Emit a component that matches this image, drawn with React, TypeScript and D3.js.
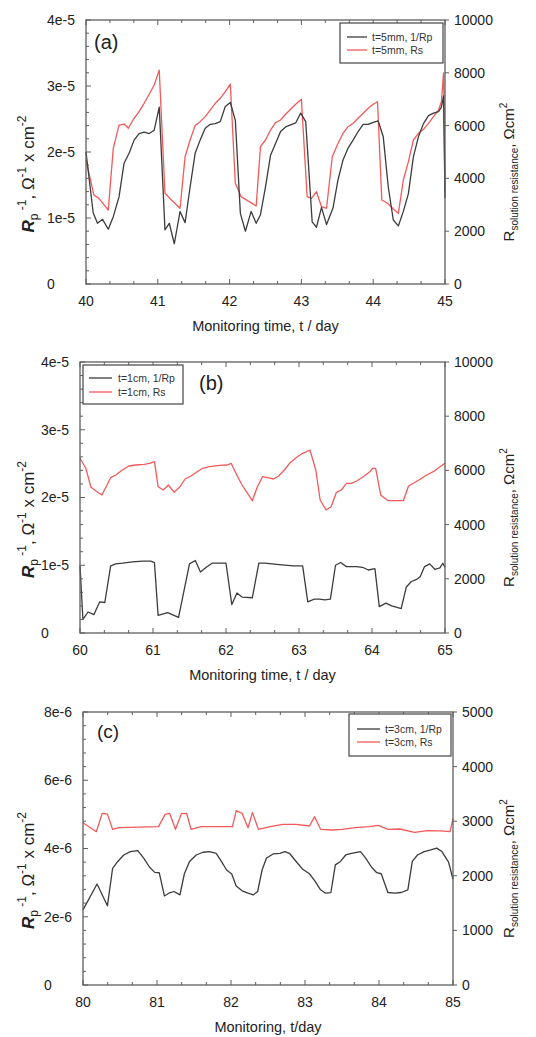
import React from "react";
import * as d3 from "d3";

// ---------- Panel (a) : t = 5 mm ----------
const daysA_rp = [40.0, 40.1, 40.16, 40.23, 40.31, 40.38, 40.46, 40.53, 40.6, 40.67, 40.74, 40.81, 40.88, 40.95, 41.02, 41.1, 41.16, 41.23, 41.31, 41.38, 41.45, 41.52, 41.59, 41.66, 41.73, 41.8, 41.87, 41.94, 42.01, 42.08, 42.15, 42.22, 42.3, 42.37, 42.43, 42.5, 42.57, 42.64, 42.71, 42.78, 42.85, 42.92, 42.99, 43.06, 43.15, 43.21, 43.28, 43.35, 43.44, 43.51, 43.58, 43.65, 43.72, 43.79, 43.86, 43.93, 44.0, 44.07, 44.14, 44.21, 44.28, 44.35, 44.42, 44.49, 44.56, 44.63, 44.7, 44.77, 44.84, 44.91, 44.95, 44.98, 45.0];
const rpA = [20.0, 10.8, 9.2, 9.8, 8.3, 10.2, 13.2, 18.3, 19.8, 21.8, 22.8, 23.0, 22.8, 23.3, 26.8, 8.2, 9.2, 6.1, 11.0, 9.3, 14.7, 19.8, 21.8, 23.6, 24.2, 24.3, 24.6, 26.9, 27.5, 24.8, 10.7, 8.0, 11.0, 9.2, 10.5, 14.7, 19.5, 21.3, 23.1, 23.8, 24.1, 24.4, 25.9, 24.6, 9.4, 8.6, 11.6, 9.0, 11.5, 15.8, 18.8, 20.6, 21.8, 23.1, 24.2, 24.2, 24.5, 24.7, 22.3, 14.7, 9.7, 8.8, 11.0, 13.7, 19.3, 22.3, 24.3, 25.5, 25.9, 26.1, 26.8, 28.5, 13.0];
const daysA_rs = [40.0, 40.11, 40.18, 40.31, 40.38, 40.46, 40.53, 40.59, 40.66, 40.73, 40.81, 40.88, 40.95, 41.02, 41.1, 41.19, 41.31, 41.38, 41.45, 41.52, 41.59, 41.66, 41.73, 41.8, 41.87, 41.94, 42.01, 42.08, 42.16, 42.37, 42.43, 42.5, 42.57, 42.64, 42.71, 42.78, 42.85, 42.92, 43.0, 43.08, 43.14, 43.21, 43.28, 43.35, 43.43, 43.5, 43.58, 43.65, 43.72, 43.79, 43.86, 43.93, 44.0, 44.06, 44.12, 44.2, 44.28, 44.35, 44.42, 44.49, 44.56, 44.63, 44.7, 44.77, 44.84, 44.91, 44.95, 44.98, 45.0];
const rsA = [4700, 3370, 3245, 2800, 5140, 6020, 6060, 5900, 6240, 6490, 6845, 7186, 7540, 8100, 3436, 3180, 2870, 4820, 5455, 6000, 6150, 6340, 6590, 6845, 7035, 7285, 7575, 3815, 3310, 2955, 5200, 5455, 5833, 6110, 6212, 6428, 6618, 6807, 7000, 3307, 3245, 3496, 2928, 2868, 4822, 5265, 5708, 5959, 6087, 6277, 6466, 6655, 6807, 6906, 3182, 3057, 2841, 2678, 3940, 4633, 5455, 5708, 5860, 6087, 6337, 6591, 6906, 8000, 3500];

// ---------- Panel (b) : t = 1 cm ----------
const daysB_rp = [60.0, 60.04, 60.11, 60.19, 60.27, 60.34, 60.42, 60.49, 60.58, 60.72, 60.86, 60.97, 61.02, 61.07, 61.2, 61.35, 61.5, 61.58, 61.65, 61.73, 61.81, 62.0, 62.08, 62.15, 62.22, 62.36, 62.45, 62.53, 62.73, 62.92, 63.05, 63.12, 63.21, 63.28, 63.35, 63.43, 63.5, 63.57, 63.65, 63.79, 63.87, 63.95, 64.04, 64.1, 64.19, 64.27, 64.4, 64.47, 64.54, 64.61, 64.66, 64.72, 64.79, 64.86, 64.93, 64.97, 65.0];
const rpB = [10.0, 2.0, 3.1, 2.7, 4.6, 4.5, 9.9, 10.2, 10.3, 10.5, 10.6, 10.6, 10.4, 2.6, 3.0, 2.3, 10.2, 10.7, 9.0, 9.7, 10.3, 10.3, 4.2, 5.9, 5.3, 5.2, 10.3, 10.3, 10.1, 9.9, 9.9, 4.6, 5.0, 5.0, 4.9, 5.0, 10.0, 10.4, 9.8, 9.8, 9.7, 9.3, 9.5, 3.9, 4.4, 4.0, 3.6, 6.8, 7.6, 7.9, 8.3, 9.8, 10.2, 9.4, 9.6, 10.3, 9.7];
const daysB_rs = [60.0, 60.08, 60.15, 60.22, 60.3, 60.42, 60.49, 60.58, 60.67, 60.76, 60.88, 60.95, 61.02, 61.07, 61.14, 61.21, 61.29, 61.37, 61.44, 61.52, 61.6, 61.68, 61.77, 61.91, 62.02, 62.07, 62.16, 62.22, 62.36, 62.43, 62.5, 62.57, 62.65, 62.72, 62.8, 62.87, 62.96, 63.05, 63.15, 63.23, 63.29, 63.37, 63.44, 63.51, 63.58, 63.65, 63.72, 63.79, 63.88, 63.97, 64.01, 64.05, 64.12, 64.22, 64.43, 64.5, 64.58, 64.66, 64.75, 64.84, 64.93, 65.0];
const rsB = [6447, 6078, 5377, 5240, 5092, 5731, 5830, 6015, 6162, 6199, 6225, 6262, 6321, 5398, 5277, 5461, 5192, 5398, 5683, 5793, 5941, 6078, 6137, 6188, 6200, 6262, 5768, 5461, 4882, 5398, 5768, 5731, 5683, 5793, 6015, 6262, 6469, 6631, 6753, 6015, 4908, 4539, 4661, 5178, 5277, 5524, 5524, 5609, 5768, 5952, 6078, 6078, 5092, 4882, 4882, 5424, 5546, 5672, 5830, 5952, 6137, 6262];

// ---------- Panel (c) : t = 3 cm ----------
const daysC_rp = [80.0, 80.19, 80.33, 80.4, 80.47, 80.55, 80.64, 80.74, 80.82, 80.9, 80.97, 81.03, 81.1, 81.16, 81.23, 81.31, 81.37, 81.44, 81.53, 81.62, 81.71, 81.8, 81.87, 81.94, 82.01, 82.07, 82.15, 82.23, 82.3, 82.36, 82.42, 82.48, 82.57, 82.66, 82.73, 82.79, 82.88, 82.97, 83.06, 83.14, 83.21, 83.28, 83.35, 83.41, 83.48, 83.55, 83.63, 83.75, 83.82, 83.9, 83.97, 84.03, 84.12, 84.21, 84.3, 84.39, 84.45, 84.52, 84.61, 84.7, 84.78, 84.85, 84.94, 85.0];
const rpC = [2.2, 2.96, 2.32, 3.42, 3.62, 3.81, 3.91, 3.94, 3.72, 3.45, 3.3, 3.29, 2.61, 2.69, 2.74, 2.64, 3.26, 3.62, 3.81, 3.89, 3.91, 3.86, 3.62, 3.37, 3.25, 2.9, 2.76, 2.69, 2.64, 2.74, 3.37, 3.72, 3.84, 3.86, 3.91, 3.86, 3.62, 3.39, 3.26, 3.03, 2.79, 2.69, 2.71, 3.52, 3.62, 3.81, 3.86, 3.91, 3.72, 3.45, 3.29, 3.26, 2.71, 2.69, 2.71, 2.79, 3.62, 3.81, 3.91, 3.96, 4.01, 3.91, 3.6, 3.1];
const daysC_rs = [80.0, 80.18, 80.26, 80.33, 80.4, 80.49, 81.02, 81.11, 81.17, 81.25, 81.33, 81.4, 81.46, 81.6, 82.02, 82.07, 82.15, 82.23, 82.29, 82.37, 82.53, 82.7, 82.88, 83.06, 83.13, 83.21, 83.37, 83.5, 83.68, 83.86, 83.99, 84.12, 84.28, 84.48, 84.65, 84.83, 84.96, 85.0];
const rsC = [2973, 2808, 3145, 3130, 2851, 2881, 2900, 3126, 3145, 2851, 3139, 3145, 2851, 2900, 2900, 3193, 3145, 2881, 3157, 2851, 2900, 2943, 2943, 2912, 3083, 2851, 2839, 2851, 2881, 2900, 2924, 2851, 2857, 2796, 2827, 2821, 2808, 3053];

// ---------- axis ticks (left values in units of 1e-6) ----------
const ticksA_x = [40, 41, 42, 43, 44, 45];
const ticksB_x = [60, 61, 62, 63, 64, 65];
const ticksC_x = [80, 81, 82, 83, 84, 85];
const ticksAB_left = [0, 10, 20, 30, 40];
const labelsAB_left = ["0", "1e-5", "2e-5", "3e-5", "4e-5"];
const ticksC_left = [0, 2, 4, 6, 8];
const labelsC_left = ["0", "2e-6", "4e-6", "6e-6", "8e-6"];
const ticksAB_right = [0, 2000, 4000, 6000, 8000, 10000];
const ticksC_right = [0, 1000, 2000, 3000, 4000, 5000];

const legendA = ["t=5mm, 1/Rp", "t=5mm, Rs"];
const legendB = ["t=1cm, 1/Rp", "t=1cm, Rs"];
const legendC = ["t=3cm, 1/Rp", "t=3cm, Rs"];

const FONT = "'Liberation Sans', Arial, sans-serif";
const BLACK_LINE = "#3c3c3c";
const RED_LINE = "#f25a5a";
const AXIS = "#5f5f5f";

type Box = { left: number; right: number; top: number; bottom: number };
type Legend = { x0: number; y0: number; x1: number; y1: number; lx0: number; lx1: number; tx: number; ly: [number, number] };

interface PanelProps {
  box: Box;
  xTicks: number[];
  leftTicks: number[];
  leftLabels: string[];
  leftMinor: number;
  rightTicks: number[];
  rpDays: number[];
  rpVals: number[];
  rsDays: number[];
  rsVals: number[];
  legendTexts: string[];
  legend: Legend;
  label: string;
  labelX: number;
  labelY: number;
  labelSize: number;
  leftLabelX: number;
  rightLabelOffset: number;
  xTitle: string;
}

function Panel(p: PanelProps) {
  const { box } = p;
  const x = d3.scaleLinear().domain([p.xTicks[0], p.xTicks[p.xTicks.length - 1]]).range([box.left, box.right]);
  const yL = d3.scaleLinear().domain([0, p.leftTicks[p.leftTicks.length - 1]]).range([box.bottom, box.top]);
  const yR = d3.scaleLinear().domain([0, p.rightTicks[p.rightTicks.length - 1]]).range([box.bottom, box.top]);

  const lineL = d3.line<number>().x((_, i) => x(p.rpDays[i])).y((v) => yL(v));
  const lineR = d3.line<number>().x((_, i) => x(p.rsDays[i])).y((v) => yR(v));

  const x0 = p.xTicks[0];
  const x1 = p.xTicks[p.xTicks.length - 1];
  const xMinor = d3.range(0, (x1 - x0) * 3 + 1).map((k) => x0 + k / 3).filter((v) => Math.abs(v - Math.round(v)) > 0.01);
  const yTop = p.leftTicks[p.leftTicks.length - 1];
  const yMinor = d3.range(0, Math.round(yTop / p.leftMinor) + 1).map((k) => k * p.leftMinor).filter((v) => !p.leftTicks.some((t) => Math.abs(t - v) < 1e-9));

  const cy = (box.top + box.bottom) / 2;
  const leftCy = cy + 22;
  const rightCy = cy + 20;
  const lg = p.legend;

  return (
    <g fontFamily={FONT}>
      {/* data */}
      <path d={lineR(p.rsVals) || ""} fill="none" stroke={RED_LINE} strokeWidth={1.3} strokeLinejoin="round" />
      <path d={lineL(p.rpVals) || ""} fill="none" stroke={BLACK_LINE} strokeWidth={1.3} strokeLinejoin="round" />

      {/* frame */}
      <rect x={box.left} y={box.top} width={box.right - box.left} height={box.bottom - box.top} fill="none" stroke={AXIS} strokeWidth={1.3} />

      {/* x ticks bottom & top */}
      {p.xTicks.map((t) => (
        <g key={"xt" + t}>
          <line x1={x(t)} x2={x(t)} y1={box.bottom} y2={box.bottom - 5} stroke={AXIS} />
          <line x1={x(t)} x2={x(t)} y1={box.top} y2={box.top + 5} stroke={AXIS} />
          <text x={x(t)} y={box.bottom + 22} textAnchor="middle" fontSize={14} fill="#222">{t}</text>
        </g>
      ))}
      {xMinor.map((t, i) => (
        <g key={"xm" + i}>
          <line x1={x(t)} x2={x(t)} y1={box.bottom} y2={box.bottom - 3} stroke={AXIS} />
          <line x1={x(t)} x2={x(t)} y1={box.top} y2={box.top + 3} stroke={AXIS} />
        </g>
      ))}

      {/* left ticks */}
      {p.leftTicks.map((t, i) => (
        <g key={"yl" + t}>
          <line x1={box.left} x2={box.left + 5} y1={yL(t)} y2={yL(t)} stroke={AXIS} />
          <text x={box.left - 39} y={yL(t)} dy="0.35em" textAnchor="start" fontSize={14} fill="#222">{p.leftLabels[i]}</text>
        </g>
      ))}
      {yMinor.map((t, i) => (
        <line key={"ym" + i} x1={box.left} x2={box.left + 3} y1={yL(t)} y2={yL(t)} stroke={AXIS} />
      ))}

      {/* right ticks */}
      {p.rightTicks.map((t) => (
        <g key={"yr" + t}>
          <line x1={box.right} x2={box.right + 4} y1={yR(t)} y2={yR(t)} stroke={AXIS} />
          <text x={box.right + 9} y={yR(t)} dy="0.35em" textAnchor="start" fontSize={14} fill="#222">{t}</text>
        </g>
      ))}

      {/* x title */}
      <text x={(box.left + box.right) / 2} y={box.bottom + 47} textAnchor="middle" fontSize={14.5} fill="#222">{p.xTitle}</text>

      {/* left title */}
      <text transform={`translate(${p.leftLabelX},${leftCy}) rotate(-90)`} textAnchor="middle" fontSize={17} fill="#222">
        <tspan fontWeight="bold" fontStyle="italic">R</tspan>
        <tspan fontSize={12} dy={4}>p</tspan>
        <tspan fontSize={12} dy={-12}>{" -1"}</tspan>
        <tspan dy={8}>{", Ω"}</tspan>
        <tspan fontSize={12} dy={-8}>-1</tspan>
        <tspan dy={8}>{" x cm"}</tspan>
        <tspan fontSize={12} dy={-8}>-2</tspan>
      </text>

      {/* right title */}
      <text transform={`translate(${box.right + p.rightLabelOffset},${rightCy}) rotate(-90)`} textAnchor="middle" fontSize={15} fill="#222">
        <tspan>R</tspan>
        <tspan fontSize={10} dy={4}>solution resistance</tspan>
        <tspan dy={-4}>{", Ωcm"}</tspan>
        <tspan fontSize={10} dy={-7}>2</tspan>
      </text>

      {/* panel label */}
      <text x={p.labelX} y={p.labelY} fontSize={p.labelSize} fill="#222">{p.label}</text>

      {/* legend */}
      <rect x={lg.x0} y={lg.y0} width={lg.x1 - lg.x0} height={lg.y1 - lg.y0} fill="#fff" stroke="#444" strokeWidth={1.2} />
      <line x1={lg.lx0} x2={lg.lx1} y1={lg.ly[0]} y2={lg.ly[0]} stroke={BLACK_LINE} strokeWidth={1.3} />
      <line x1={lg.lx0} x2={lg.lx1} y1={lg.ly[1]} y2={lg.ly[1]} stroke={RED_LINE} strokeWidth={1.3} />
      <text x={lg.tx} y={lg.ly[0]} dy="0.35em" fontSize={10.5} fill="#333">{p.legendTexts[0]}</text>
      <text x={lg.tx} y={lg.ly[1]} dy="0.35em" fontSize={10.5} fill="#333">{p.legendTexts[1]}</text>
    </g>
  );
}

export default function App() {
  return (
    <svg width={536} height={1037} viewBox="0 0 536 1037" style={{ display: "block", position: "absolute", left: 0, top: 0, background: "#fff" }}>
      <rect x={0} y={0} width={536} height={1037} fill="#fff" />
      <Panel
        box={{ left: 86, right: 445, top: 20, bottom: 284 }}
        xTicks={ticksA_x}
        leftTicks={ticksAB_left}
        leftLabels={labelsAB_left}
        leftMinor={2}
        rightTicks={ticksAB_right}
        rpDays={daysA_rp}
        rpVals={rpA}
        rsDays={daysA_rs}
        rsVals={rsA}
        legendTexts={legendA}
        legend={{ x0: 340, y0: 23, x1: 443, y1: 63, lx0: 347, lx1: 367, tx: 372, ly: [37, 50] }}
        label="(a)"
        labelX={94}
        labelY={49}
        labelSize={20}
        leftLabelX={34}
        rightLabelOffset={69}
        xTitle="Monitoring time, t / day"
      />
      <Panel
        box={{ left: 80, right: 445, top: 362, bottom: 633 }}
        xTicks={ticksB_x}
        leftTicks={ticksAB_left}
        leftLabels={labelsAB_left}
        leftMinor={2}
        rightTicks={ticksAB_right}
        rpDays={daysB_rp}
        rpVals={rpB}
        rsDays={daysB_rs}
        rsVals={rsB}
        legendTexts={legendB}
        legend={{ x0: 83, y0: 365, x1: 183, y1: 404, lx0: 89, lx1: 112, tx: 118, ly: [378, 392] }}
        label="(b)"
        labelX={199}
        labelY={390}
        labelSize={20}
        leftLabelX={34}
        rightLabelOffset={69}
        xTitle="Monitoring time, t / day"
      />
      <Panel
        box={{ left: 83, right: 453, top: 712, bottom: 985 }}
        xTicks={ticksC_x}
        leftTicks={ticksC_left}
        leftLabels={labelsC_left}
        leftMinor={0.4}
        rightTicks={ticksC_right}
        rpDays={daysC_rp}
        rpVals={rpC}
        rsDays={daysC_rs}
        rsVals={rsC}
        legendTexts={legendC}
        legend={{ x0: 349, y0: 714, x1: 451, y1: 756, lx0: 357, lx1: 380, tx: 385, ly: [729, 742] }}
        label="(c)"
        labelX={97}
        labelY={738}
        labelSize={19}
        leftLabelX={34}
        rightLabelOffset={61}
        xTitle="Monitoring, t/day"
      />
    </svg>
  );
}
